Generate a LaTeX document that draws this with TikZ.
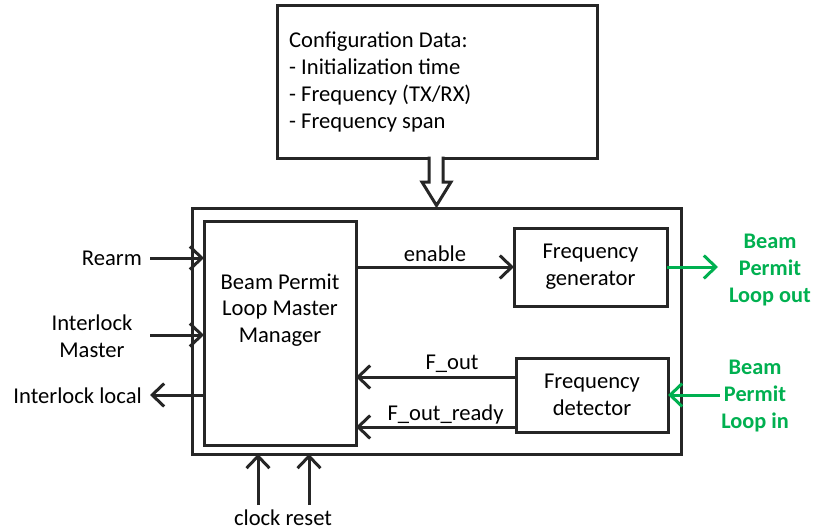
\documentclass[tikz,border=0pt]{standalone}
\usepackage{fontspec}
\setmainfont{Carlito}
\usetikzlibrary{arrows.meta}
\definecolor{ln}{RGB}{38,38,38}
\definecolor{grn}{RGB}{0,176,80}
\tikzset{
  box/.style={draw=ln, line width=3pt, inner sep=0pt, outer sep=0pt, fill=white},
  arr/.style={draw=ln, line width=3pt, -{Straight Barb[length=12pt, width=23pt, line width=3pt]}},
  garr/.style={draw=grn, line width=3pt, -{Straight Barb[length=12pt, width=23pt, line width=3pt]}},
  lbl/.style={font=\fontsize{22.6}{27}\selectfont, inner sep=0pt, text=black},
  glbl/.style={font=\fontsize{22.3}{27}\selectfont\bfseries, inner sep=0pt, text=grn, align=center},
}
\begin{document}
\begin{tikzpicture}[x=1pt, y=-1pt]
\useasboundingbox (0,0) rectangle (815,530);
% boxes
\node[box, minimum width=320pt, minimum height=153pt] (cfg) at (437,81.5) {};
\node[box, minimum width=489pt, minimum height=246pt] (outer) at (436.5,331) {};
\node[box, minimum width=152pt, minimum height=224pt] (mgr) at (280,333) {};
\node[box, minimum width=153pt, minimum height=78pt] (gen) at (590.5,267) {};
\node[box, minimum width=152pt, minimum height=74pt] (det) at (592,395) {};
% texts in boxes
\node[lbl, align=left, anchor=west] (cfgtxt) at (289,82) {Configuration Data:\\- Initialization time\\- Frequency (TX/RX)\\- Frequency span};
\node[lbl, align=center, font=\fontsize{22.6}{26.5}\selectfont] (mgrtxt) at (280,310) {Beam Permit\\Loop Master\\Manager};
\node[lbl, align=center] (gentxt) at (gen) {Frequency\\generator};
\node[lbl, align=center] (dettxt) at (det) {Frequency\\detector};
% hollow arrow
\filldraw[draw=ln, fill=white, line width=3pt, line join=miter]
  (429,156.5) -- (429,182) -- (422,182) -- (436.5,205.5) -- (451,182) -- (443,182) -- (443,156.5);
% left side
\node[lbl, anchor=east] (rearm) at (142,258) {Rearm};
\node[lbl, align=center] (ilm) at (92,336) {Interlock\\Master};
\node[lbl, anchor=east] (ill) at (142,396) {Interlock local};
\coordinate (rA) at (150,258);
\coordinate (mA) at (150,335);
\coordinate (lA) at (150,395);
\draw[arr] (rA) -- (rA -| mgr.west);
\draw[arr] (mA) -- (mA -| mgr.west);
\draw[arr] (lA -| mgr.west) -- (lA);
% internal connectors
\draw[arr] (mgr.east |- gen.west) -- node[lbl, anchor=base, yshift=6pt] (en) {enable} (gen.west);
\draw[arr] ([yshift=18pt]det.west) -- node[lbl, pos=0.4, anchor=base, yshift=8pt] (fo) {F\_out} ([yshift=18pt]det.west -| mgr.east);
\draw[arr] ([yshift=-32pt]det.west) -- node[lbl, pos=0.44, anchor=base, yshift=7pt] (for) {F\_out\_ready} ([yshift=-32pt]det.west -| mgr.east);
% green
\draw[garr] (gen.east) -- ++(51,0) coordinate (gout);
\coordinate (gin) at (720,395);
\draw[garr] (gin) -- (det.east);
\node[glbl] (bpout) at (770,270) {Beam\\Permit\\Loop out};
\node[glbl] (bpin) at (755,396) {Beam\\Permit\\Loop in};
% bottom
\coordinate (clk) at (258,505);
\coordinate (rst) at (309,505);
\draw[arr] (clk) -- (clk |- outer.south);
\draw[arr] (rst) -- (rst |- outer.south);
\node[lbl] (cr) at (283,518) {clock reset};
\end{tikzpicture}
\end{document}
